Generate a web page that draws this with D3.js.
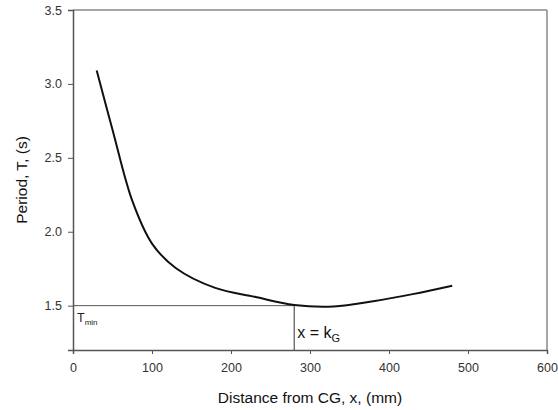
<!DOCTYPE html>
<html>
<head>
<meta charset="utf-8">
<script src="https://cdn.jsdelivr.net/npm/d3@7"></script>
<style>
body { margin: 0; background: #fff; }
text { font-family: "Liberation Sans", Arial, sans-serif; }
</style>
</head>
<body>
<svg></svg>
<script>
// distance from CG (mm) and period (s)
const DISTANCE = [30, 50, 75, 100, 130, 180, 230, 280, 330, 380, 430, 480];
const PERIOD = [3.09, 2.69, 2.21, 1.92, 1.755, 1.62, 1.56, 1.505, 1.495, 1.53, 1.578, 1.635];
const X_TICKS = [0, 100, 200, 300, 400, 500, 600];
const Y_TICKS = [1.5, 2.0, 2.5, 3.0, 3.5];
const K_G = 280;
const T_MIN = 1.5;

const MARGINS = {top: 10, right: 11, bottom: 60, left: 73};
const WIDTH = 558 - MARGINS.left - MARGINS.right;
const HEIGHT = 410 - MARGINS.top - MARGINS.bottom;

const svg = d3.select('svg')
.attr('width', 558)
.attr('height', 410);

const chart = svg.append('g')
.attr('transform', `translate(${MARGINS.left}, ${MARGINS.top})`);

const xScale = d3.scaleLinear().domain([0, 600]).range([0, WIDTH]);
const yScale = d3.scaleLinear().domain([1.2, 3.5]).range([HEIGHT, 0]);

//frame (top + right)
chart.append('line')
.attr('x1', 0).attr('x2', WIDTH).attr('y1', 0).attr('y2', 0)
.attr('stroke', '#8a8a8a').attr('stroke-width', 1.5);
chart.append('line')
.attr('x1', WIDTH).attr('x2', WIDTH).attr('y1', 0).attr('y2', HEIGHT)
.attr('stroke', '#8a8a8a').attr('stroke-width', 1.5);

//x axis
const xAxis = chart.append('g')
.attr('transform', `translate(0, ${HEIGHT})`)
.call(d3.axisBottom(xScale).tickValues(X_TICKS).tickSize(4).tickPadding(9));

//y axis
const yAxis = chart.append('g')
.call(d3.axisLeft(yScale).tickValues(Y_TICKS).tickSize(5).tickPadding(6).tickFormat(d3.format('.1f')));

[xAxis, yAxis].forEach(ax => {
  ax.select('.domain').attr('stroke', '#555').attr('stroke-width', 1.5);
  ax.selectAll('.tick line').attr('stroke', '#555');
  ax.selectAll('.tick text')
  .attr('fill', '#333')
  .style('font-size', '12.5px')
  .style('font-family', '"Liberation Sans", Arial, sans-serif');
});

//reference lines for T min and k_G
chart.append('line')
.attr('x1', xScale(0)).attr('x2', xScale(K_G))
.attr('y1', yScale(T_MIN)).attr('y2', yScale(T_MIN))
.attr('stroke', '#555').attr('stroke-width', 1);
chart.append('line')
.attr('x1', xScale(K_G)).attr('x2', xScale(K_G))
.attr('y1', yScale(T_MIN)).attr('y2', HEIGHT)
.attr('stroke', '#333').attr('stroke-width', 1);

//curve
const points = DISTANCE.map((d, i) => [d, PERIOD[i]]);
const line = d3.line()
.x(d => xScale(d[0]))
.y(d => yScale(d[1]))
.curve(d3.curveCatmullRom.alpha(0.5));

chart.append('path')
.datum(points)
.attr('d', line)
.attr('fill', 'none')
.attr('stroke', '#111')
.attr('stroke-width', 2);

//annotations
const tmin = chart.append('text')
.attr('x', 4)
.attr('y', yScale(T_MIN) + 16)
.attr('fill', '#222')
.style('font-size', '12.5px');
tmin.append('tspan').text('T').attr('fill', '#222');
tmin.append('tspan').text('min').attr('dy', 3).attr('fill', '#222').style('font-size', '8px');

const kg = chart.append('text')
.attr('x', xScale(K_G) + 3)
.attr('y', yScale(T_MIN) + 32)
.attr('fill', '#111')
.style('font-size', '16px');
kg.append('tspan').text('x = k').attr('fill', '#111');
kg.append('tspan').text('G').attr('dy', 4).attr('fill', '#111').style('font-size', '11px');

//axis titles
svg.append('text')
.text('Distance from CG, x, (mm)')
.attr('x', MARGINS.left + WIDTH / 2)
.attr('y', 403)
.attr('text-anchor', 'middle')
.attr('fill', '#111')
.style('font-size', '15.5px');

svg.append('text')
.text('Period, T, (s)')
.attr('transform', `translate(27, ${MARGINS.top + HEIGHT / 2}) rotate(-90)`)
.attr('text-anchor', 'middle')
.attr('fill', '#111')
.style('font-size', '15.5px');
</script>
</body>
</html>
